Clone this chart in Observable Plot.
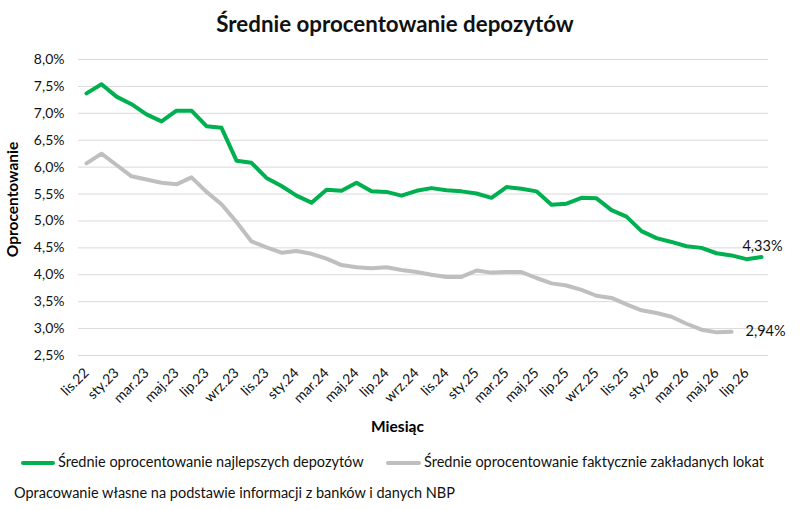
<!DOCTYPE html>
<html>
<head>
<meta charset="utf-8">
<script src="https://cdn.jsdelivr.net/npm/d3@7"></script>
<script src="https://cdn.jsdelivr.net/npm/@observablehq/plot@0.6"></script>
<style>
  html, body { margin: 0; padding: 0; background: #fff; }
  #wrap { position: relative; width: 801px; height: 510px; font-family: Lato, "Noto Sans", sans-serif; color: #111; overflow: hidden; }
  #title { position: absolute; left: 0; top: 7px; width: 790px; text-align: center; font-size: 22.3px; font-weight: bold; line-height: 34px; }
  #chart { position: absolute; left: 0; top: 45px; }
  .lg { position: absolute; font-size: 14.5px; line-height: 18px; top: 453px; white-space: nowrap; }
  .sw { position: absolute; height: 4px; top: 461px; border-radius: 2px; }
  #caption { position: absolute; left: 14px; top: 484px; font-size: 14.5px; line-height: 18px; white-space: nowrap; }
</style>
</head>
<body>
<div id="wrap">
  <div id="title">Średnie oprocentowanie depozytów</div>
  <div id="chart"></div>
  <div class="sw" style="left:21px;width:34px;background:#00b050"></div>
  <div class="lg" style="left:58px">Średnie oprocentowanie najlepszych depozytów</div>
  <div class="sw" style="left:386px;width:35px;background:#bfbfbf"></div>
  <div class="lg" style="left:424px">Średnie oprocentowanie faktycznie zakładanych lokat</div>
  <div id="caption">Opracowanie własne na podstawie informacji z banków i danych NBP</div>
</div>
<script>
const months = ["lis.22","gru.22","sty.23","lut.23","mar.23","kwi.23","maj.23","cze.23","lip.23","sie.23","wrz.23","paź.23",
  "lis.23","gru.23","sty.24","lut.24","mar.24","kwi.24","maj.24","cze.24","lip.24","sie.24","wrz.24","paź.24",
  "lis.24","gru.24","sty.25","lut.25","mar.25","kwi.25","maj.25","cze.25","lip.25","sie.25","wrz.25","paź.25",
  "lis.25","gru.25","sty.26","lut.26","mar.26","kwi.26","maj.26","cze.26","lip.26","sie.26"];

const best = [7.37, 7.54, 7.31, 7.17, 6.98, 6.85, 7.05, 7.05, 6.76, 6.73,
  6.12, 6.08, 5.80, 5.65, 5.47, 5.34, 5.58, 5.56, 5.71, 5.55,
  5.54, 5.47, 5.56, 5.61, 5.57, 5.55, 5.51, 5.43, 5.63, 5.60,
  5.55, 5.30, 5.32, 5.43, 5.42, 5.20, 5.08, 4.81, 4.68, 4.61,
  4.53, 4.50, 4.40, 4.36, 4.29, 4.33];

const actual = [6.07, 6.25, 6.04, 5.83, 5.77, 5.71, 5.68, 5.81, 5.54, 5.31,
  4.98, 4.62, 4.51, 4.41, 4.44, 4.39, 4.30, 4.18, 4.14, 4.12,
  4.14, 4.09, 4.05, 4.00, 3.96, 3.96, 4.08, 4.04, 4.05, 4.05,
  3.94, 3.84, 3.80, 3.72, 3.61, 3.57, 3.45, 3.34, 3.29, 3.22,
  3.09, 2.98, 2.93, 2.94, null, null];

const yTicks = [2.5, 3.0, 3.5, 4.0, 4.5, 5.0, 5.5, 6.0, 6.5, 7.0, 7.5, 8.0];
const xTicks = months.filter((m, i) => i % 2 === 0);

const data = months.map((m, i) => ({month: m, best: best[i], actual: actual[i]}));
const lastBest = data.filter(d => d.best != null).slice(-1);
const lastActual = data.filter(d => d.actual != null).slice(-1);
const fmt = (v, n) => v.toFixed(n).replace(".", ",") + "%";

const chart = Plot.plot({
  width: 801,
  height: 395,
  marginLeft: 78,
  marginRight: 33,
  marginTop: 14,
  marginBottom: 85,
  style: {fontFamily: "Lato, 'Noto Sans', sans-serif", color: "#111", background: "#fff"},
  x: {type: "point", domain: months, padding: 0.5},
  y: {domain: [2.5, 8.0]},
  marks: [
    Plot.gridY(yTicks, {stroke: "#d9d9d9", strokeOpacity: 1, strokeWidth: 1}),
    Plot.axisY(yTicks, {tickSize: 0, tickPadding: 14, fontSize: 14, tickFormat: d => fmt(d, 1), label: null}),
    Plot.axisX(xTicks, {tickSize: 0, tickPadding: 15, tickRotate: -45, fontSize: 14, label: null}),
    Plot.text(["Oprocentowanie"], {frameAnchor: "left", textAnchor: "middle", rotate: -90, dx: -65, dy: -8, fontWeight: "bold", fontSize: 15.5, fill: "#000"}),
    Plot.text(["Miesiąc"], {frameAnchor: "bottom", dx: -26, dy: 76, fontWeight: "bold", fontSize: 15.5, fill: "#000"}),
    Plot.line(data, {x: "month", y: "actual", stroke: "#bfbfbf", strokeWidth: 4, strokeLinejoin: "round", strokeLinecap: "round"}),
    Plot.line(data, {x: "month", y: "best", stroke: "#00b050", strokeWidth: 4, strokeLinejoin: "round", strokeLinecap: "round"}),
    Plot.text(lastBest, {x: "month", y: "best", text: d => fmt(d.best, 2), dy: -11, dx: 1, fontSize: 14.5, fill: "#111"}),
    Plot.text(lastActual, {x: "month", y: "actual", text: d => fmt(d.actual, 2), dx: 14, textAnchor: "start", fontSize: 14.5, fill: "#111"})
  ]
});
document.getElementById("chart").appendChild(chart);
</script>
</body>
</html>
